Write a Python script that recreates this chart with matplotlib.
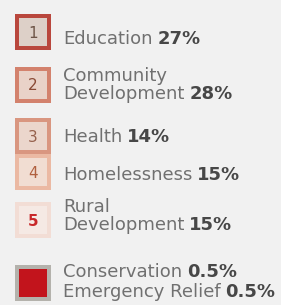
import matplotlib
matplotlib.use("Agg")
import matplotlib.pyplot as plt
from matplotlib.patches import Rectangle

# legend entries: label lines, share text, box number
labels = [["Education"], ["Community", "Development"], ["Health"], ["Homelessness"],
          ["Rural", "Development"], ["Conservation", "Emergency Relief"]]
shares = [["27%"], ["28%"], ["14%"], ["15%"], ["15%"], ["0.5%", "0.5%"]]
numbers = ["1", "2", "3", "4", "5", ""]

# box styling (border, fill, number colour)
edge_colors = ["#b9473d", "#d3826d", "#d99680", "#ebb9a3", "#f2ddd5", "#b4b2ac"]
face_colors = ["#ddd0c8", "#e9d2c8", "#ebd6cc", "#f1ddd2", "#f5e9e4", "#c2141c"]
num_colors = ["#6e5548", "#8a4a35", "#95604c", "#b0603f", "#c8282a", "#000000"]

box_tops = [14, 67, 118, 154, 202, 265]
text_base = [44, 99, 142, 180, 230, 277]   # baseline of last line (first line for split shares)
line_step = 18

W, H = 281, 305
fig = plt.figure(figsize=(W / 100, H / 100), dpi=100, facecolor="#f1f1f1")
ax = fig.add_axes([0, 0, 1, 1])
ax.set_xlim(0, W)
ax.set_ylim(H, 0)
ax.axis("off")

font = "DejaVu Sans"
fs = 13
renderer = fig.canvas.get_renderer()

for i in range(len(labels)):
    top = box_tops[i]
    size = 36
    bw = 4
    ax.add_patch(Rectangle((15, top), size, size, facecolor=edge_colors[i], edgecolor="none"))
    ax.add_patch(Rectangle((15 + bw, top + bw), size - 2 * bw, size - 2 * bw,
                           facecolor=face_colors[i], edgecolor="none"))
    if numbers[i]:
        ax.text(15 + size / 2, top + size / 2 + 1, numbers[i], ha="center", va="center",
                fontsize=11, color=num_colors[i], family=font,
                fontweight="bold" if i == 4 else "normal")

    lines = labels[i]
    pcts = shares[i]
    base = text_base[i] - line_step * (len(lines) - 1) if len(pcts) == 1 else text_base[i]
    step = line_step if len(pcts) == 1 else 20
    for j, line in enumerate(lines):
        y = base + j * step
        t = ax.text(63, y, line, ha="left", va="baseline", fontsize=fs,
                    color="#707070", family=font)
        # percentage goes after the last line (or each line when there are several)
        if len(pcts) == 1 and j == len(lines) - 1:
            p = pcts[0]
        elif len(pcts) > 1:
            p = pcts[j]
        else:
            p = None
        if p:
            bb = t.get_window_extent(renderer)
            x_end = ax.transData.inverted().transform((bb.x1, bb.y0))[0]
            ax.text(x_end + 5, y, p, ha="left", va="baseline", fontsize=fs,
                    color="#474747", family=font, fontweight="bold")

fig.savefig("out.png", dpi=100, facecolor=fig.get_facecolor())
